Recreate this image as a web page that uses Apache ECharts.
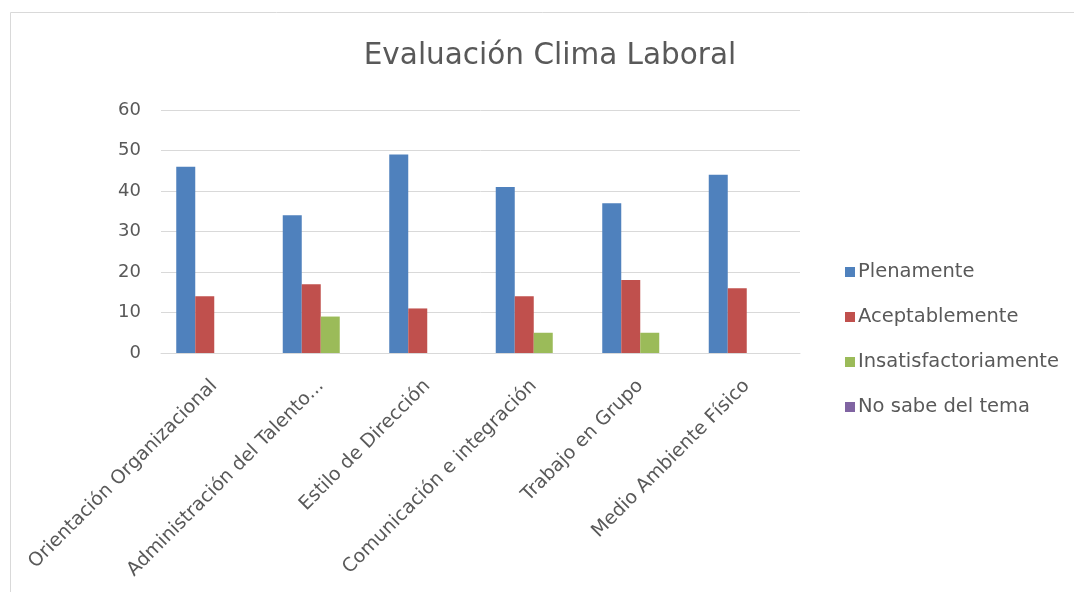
<!DOCTYPE html>
<html><head><meta charset="utf-8">
<script src="https://cdn.jsdelivr.net/npm/echarts@6/dist/echarts.min.js"></script>
<style>html,body{margin:0;padding:0;background:#fff}#c{width:1074px;height:592px}</style>
</head><body><div id="c"></div>
<script>
const categories = ['Orientación Organizacional','Administración del Talento...','Estilo de Dirección','Comunicación e integración','Trabajo en Grupo','Medio Ambiente Físico'];
const plenamente = [46,34,49,41,37,44];
const aceptablemente = [14,17,11,14,18,16];
const insatisfactoriamente = [0,9,0,5,5,0];
const noSabe = [0,0,0,0,0,0];
const yTicks = {min:0,max:60,interval:10};

const chart = echarts.init(document.getElementById('c'));
const font = '"DejaVu Sans", sans-serif';
const mk = (name, data, color) => ({name, type:'bar', data, barWidth:19, barGap:'0%',
  itemStyle:{color}, emphasis:{disabled:true}});
chart.setOption({
  animation:false,
  title:{text:'Evaluación Clima Laboral', left:545, top:36, textAlign:'center',
    textStyle:{fontFamily:font, fontWeight:'normal', fontSize:29.5, color:'#595959'}},
  graphic:[{type:'rect', shape:{x:10.5,y:12.5,width:1100,height:620}, style:{fill:'none',stroke:'#d9d9d9',lineWidth:1}, silent:true}],
  legend:{orient:'vertical', left:840, top:257, itemWidth:10, itemHeight:10, itemGap:25, icon:'rect',
    textStyle:{fontFamily:font, fontSize:19.5, color:'#595959', padding:[0,0,0,-2]}},
  grid:{left:161, right:274, top:110, bottom:239, containLabel:false},
  xAxis:{type:'category', data:categories,
    axisLine:{lineStyle:{color:'#d9d9d9'}}, axisTick:{show:false},
    axisLabel:{rotate:45, interval:0, fontFamily:font, fontSize:19, color:'#595959', margin:30}},
  yAxis:{type:'value', min:yTicks.min, max:yTicks.max, interval:yTicks.interval,
    axisLine:{show:false}, axisTick:{show:false},
    splitLine:{lineStyle:{color:'#d9d9d9'}},
    axisLabel:{fontFamily:font, fontSize:18, color:'#595959', margin:20}},
  series:[
    mk('Plenamente', plenamente, '#4f81bd'),
    mk('Aceptablemente', aceptablemente, '#c0504d'),
    mk('Insatisfactoriamente', insatisfactoriamente, '#9bbb59'),
    mk('No sabe del tema', noSabe, '#8064a2')
  ]
});
</script></body></html>
